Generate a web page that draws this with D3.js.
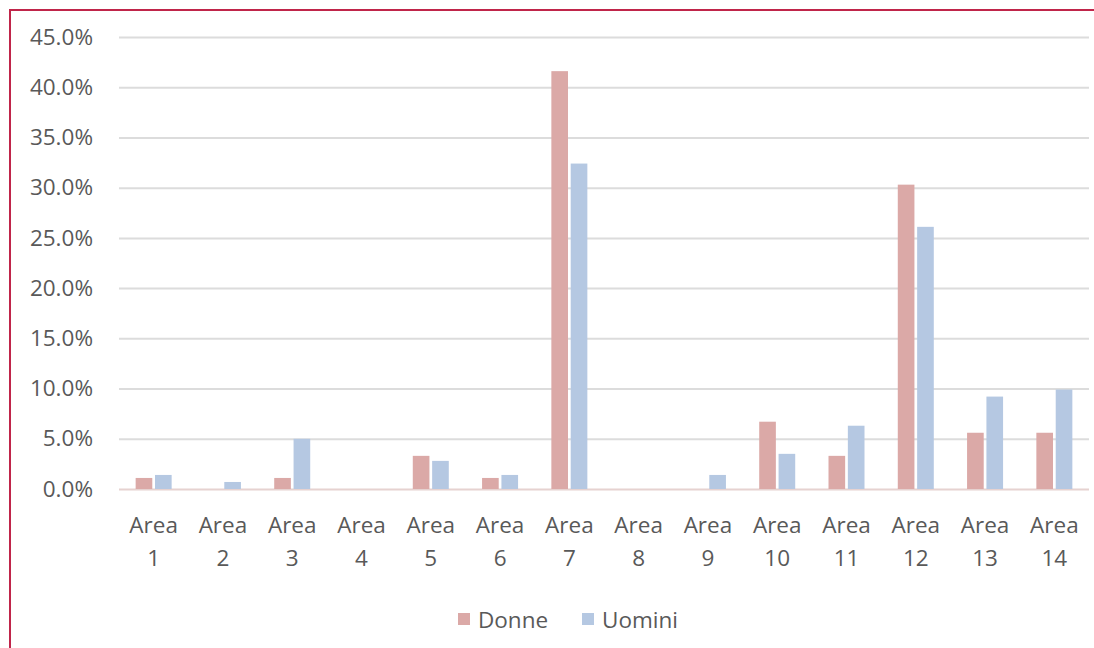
<!DOCTYPE html>
<html>
<head>
<meta charset="utf-8">
<script src="https://cdn.jsdelivr.net/npm/d3@7"></script>
<style>
  html, body { margin: 0; padding: 0; background: #fff; }
  svg { display: block; }
  text { font-family: "Open Sans", Lato, sans-serif; fill: #595959; }
</style>
</head>
<body>
<svg id="chart" width="1094" height="648"></svg>
<script>
// Distribution by area, women vs men (percent)
const categories = ["Area 1", "Area 2", "Area 3", "Area 4", "Area 5", "Area 6", "Area 7",
                    "Area 8", "Area 9", "Area 10", "Area 11", "Area 12", "Area 13", "Area 14"];
const donne  = [1.1, 0, 1.1, 0, 3.3, 1.1, 41.6, 0, 0, 6.7, 3.3, 30.3, 5.6, 5.6];
const uomini = [1.4, 0.7, 5.0, 0, 2.8, 1.4, 32.4, 0, 1.4, 3.5, 6.3, 26.1, 9.2, 9.9];
const seriesNames = ["Donne", "Uomini"];
const seriesColors = ["#dba9a7", "#b5c8e2"];
const yTicks = [0, 5, 10, 15, 20, 25, 30, 35, 40, 45];

const svg = d3.select("#chart");
const W = 1094, H = 648;
const FS = 22.5;

// Frame lines along the top and left edges
svg.append("line").attr("x1", 9).attr("x2", W).attr("y1", 10).attr("y2", 10)
  .attr("stroke", "#c0254a").attr("stroke-width", 2);
svg.append("line").attr("x1", 10).attr("x2", 10).attr("y1", 9).attr("y2", H)
  .attr("stroke", "#c0254a").attr("stroke-width", 2);

const plot = { left: 119, right: 1089, top: 37, bottom: 489 };

const x0 = d3.scaleBand().domain(categories).range([plot.left, plot.right]).paddingInner(0).paddingOuter(0);
const x1 = d3.scaleBand().domain(seriesNames).range([0, 36]).paddingInner(0.14);
const y = d3.scaleLinear().domain([0, 45]).range([plot.bottom, plot.top]);

// Gridlines and percentage labels
const yAxis = d3.axisLeft(y).tickValues(yTicks)
  .tickSize(-(plot.right - plot.left)).tickPadding(26)
  .tickFormat(d => d3.format(".1f")(d) + "%");
const gy = svg.append("g").attr("transform", `translate(${plot.left},0)`).call(yAxis);
gy.select(".domain").remove();
gy.selectAll(".tick line").attr("stroke", "#dcdcdc").attr("stroke-width", 2)
  .filter(d => d === 0).attr("stroke", "#e6d2d0");
gy.selectAll(".tick text").attr("font-size", FS).attr("fill", "#595959").attr("x", -26);

// Bars
const rows = categories.map((c, i) => ({ cat: c, vals: [donne[i], uomini[i]] }));
const groups = svg.append("g").selectAll("g").data(rows).join("g")
  .attr("transform", d => `translate(${x0(d.cat) + x0.bandwidth() / 2 - 18},0)`);
groups.selectAll("rect").data(d => d.vals.map((v, k) => ({ v, k })))
  .join("rect")
  .attr("x", d => x1(seriesNames[d.k]))
  .attr("width", x1.bandwidth())
  .attr("y", d => y(d.v))
  .attr("height", d => y(0) - y(d.v))
  .attr("fill", d => seriesColors[d.k]);

// Category labels on two lines
const xAxis = d3.axisBottom(x0).tickSize(0).tickPadding(0);
const gx = svg.append("g").attr("transform", `translate(0,${plot.bottom})`).call(xAxis);
gx.select(".domain").remove();
gx.selectAll(".tick text").each(function(d) {
  const parts = d.split(" ");
  const t = d3.select(this).text(null).attr("font-size", FS).attr("fill", "#595959")
    .attr("y", 0).attr("dy", null);
  t.append("tspan").attr("x", 0).attr("y", 44).text(parts[0]);
  t.append("tspan").attr("x", 0).attr("y", 77).text(parts[1]);
});

// Legend
const legend = svg.append("g").attr("transform", "translate(458,620)");
const items = [{ name: "Donne", x: 0 }, { name: "Uomini", x: 124 }];
items.forEach((it, k) => {
  legend.append("rect").attr("x", it.x).attr("y", -7).attr("width", 12).attr("height", 12)
    .attr("fill", seriesColors[k]);
  legend.append("text").attr("x", it.x + 20).attr("y", 8).attr("font-size", FS).text(it.name);
});
</script>
</body>
</html>
